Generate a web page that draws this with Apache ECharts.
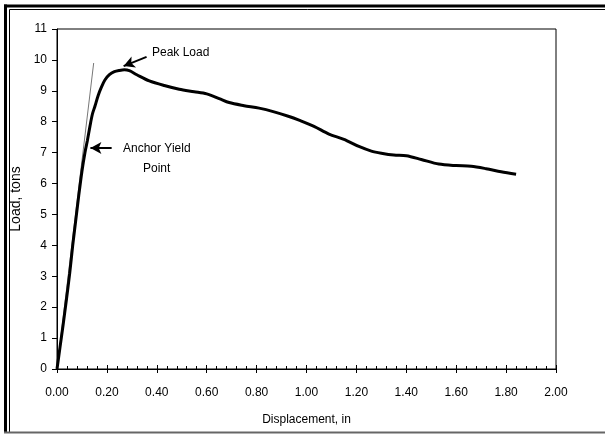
<!DOCTYPE html>
<html>
<head>
<meta charset="utf-8">
<script src="https://cdn.jsdelivr.net/npm/echarts@6/dist/echarts.min.js"></script>
<style>
  html, body { margin: 0; padding: 0; background: #fff; }
  #main { width: 605px; height: 435px; }
</style>
</head>
<body>
<div id="main"></div>
<script>
// values: [displacement (in), load (tons)]
var loadCurve = [
  [0, 0], [0.012, 0.7], [0.024, 1.4], [0.037, 2.2], [0.051, 3.1], [0.063, 4.0],
  [0.075, 4.8], [0.087, 5.6], [0.1, 6.4], [0.112, 7.0], [0.122, 7.4], [0.132, 7.85],
  [0.142, 8.25], [0.152, 8.5], [0.165, 8.85], [0.178, 9.12], [0.192, 9.35],
  [0.21, 9.52], [0.23, 9.62], [0.25, 9.66], [0.27, 9.68], [0.29, 9.65],
  [0.32, 9.52], [0.37, 9.32], [0.43, 9.17], [0.49, 9.05], [0.55, 8.97], [0.6, 8.9],
  [0.65, 8.75], [0.69, 8.62], [0.75, 8.52], [0.81, 8.44], [0.87, 8.32], [0.93, 8.17],
  [0.97, 8.05], [1.03, 7.85], [1.09, 7.6], [1.15, 7.43], [1.21, 7.2], [1.26, 7.05],
  [1.3, 6.98], [1.35, 6.92], [1.4, 6.9], [1.46, 6.78], [1.53, 6.63], [1.6, 6.58],
  [1.66, 6.56], [1.72, 6.48], [1.78, 6.38], [1.84, 6.3]
];
// thin elastic (initial slope) line
var slopeLine = [[0, 0], [0.147, 9.9]];
// annotation arrows [tail, tip]
var peakArrow = [[0.359, 10.1], [0.267, 9.8]];
var yieldArrow = [[0.219, 7.15], [0.134, 7.15]];

var xLabels = ['0.00', '0.20', '0.40', '0.60', '0.80', '1.00', '1.20', '1.40', '1.60', '1.80', '2.00'];

var font = 'Arial, "Liberation Sans", sans-serif';

var myChart = echarts.init(document.getElementById('main'));

var option = {
  animation: false,
  backgroundColor: '#fff',
  grid: {
    left: 57, right: 49, top: 29, bottom: 66,
    show: true, borderColor: '#000', borderWidth: 1
  },
  xAxis: [
    {
      type: 'value', min: 0, max: 2, interval: 0.2,
      position: 'bottom',
      name: 'Displacement, in', nameLocation: 'middle', nameGap: 45,
      nameTextStyle: { fontFamily: font, fontSize: 12, color: '#000' },
      axisLine: { lineStyle: { color: '#000', width: 1 } },
      axisTick: { show: true, inside: true, length: 4, lineStyle: { color: '#000', width: 1 } },
      minorTick: { show: true, splitNumber: 5, length: 3, lineStyle: { color: '#000', width: 1 } },
      axisLabel: {
        fontFamily: font, fontSize: 12, color: '#000', margin: 18,
        formatter: function (v) { return xLabels[Math.round(v / 0.2)]; }
      },
      splitLine: { show: false }
    },
    {
      // downward half of the major ticks
      type: 'value', min: 0, max: 2, interval: 0.2,
      position: 'bottom',
      axisLine: { show: false },
      axisTick: { show: true, length: 4, lineStyle: { color: '#000', width: 1 } },
      axisLabel: { show: false },
      splitLine: { show: false }
    }
  ],
  yAxis: {
    type: 'value', min: 0, max: 11, interval: 1,
    name: 'Load, tons', nameLocation: 'middle', nameGap: 31,
    nameTextStyle: { fontFamily: font, fontSize: 14, color: '#000' },
    axisLine: { show: true, lineStyle: { color: '#000', width: 1 } },
    axisTick: { show: true, length: 5, lineStyle: { color: '#000' } },
    axisLabel: { fontFamily: font, fontSize: 12, color: '#000', margin: 10 },
    splitLine: { show: false }
  },
  series: [
    {
      type: 'line',
      data: slopeLine,
      showSymbol: false,
      lineStyle: { color: '#777', width: 1 },
      silent: true
    },
    {
      type: 'line',
      data: loadCurve,
      showSymbol: false,
      smooth: 0.3,
      lineStyle: { color: '#000', width: 3 },
      markLine: {
        silent: true,
        symbol: ['none', 'arrow'],
        symbolSize: [9, 11],
        label: { show: false },
        lineStyle: { color: '#000', width: 2, type: 'solid' },
        data: [
          [{ coord: peakArrow[0] }, { coord: peakArrow[1] }],
          [{ coord: yieldArrow[0] }, { coord: yieldArrow[1] }]
        ]
      }
    }
  ],
  graphic: [
    { type: 'text', left: 152, top: 47, style: { text: 'Peak Load', font: '12px ' + font, fill: '#000' } },
    { type: 'text', left: 123, top: 143, style: { text: 'Anchor Yield', font: '12px ' + font, fill: '#000' } },
    { type: 'text', left: 143, top: 163, style: { text: 'Point', font: '12px ' + font, fill: '#000' } },
    // page frame
    { type: 'line', shape: { x1: 4, y1: 6, x2: 605, y2: 6 }, style: { stroke: '#000', lineWidth: 3 } },
    { type: 'line', shape: { x1: 5.5, y1: 4.5, x2: 5.5, y2: 433 }, style: { stroke: '#000', lineWidth: 3 } },
    { type: 'line', shape: { x1: 9.5, y1: 9.5, x2: 605, y2: 9.5 }, style: { stroke: '#000', lineWidth: 1 } },
    { type: 'line', shape: { x1: 9.5, y1: 9.5, x2: 9.5, y2: 433 }, style: { stroke: '#000', lineWidth: 1 } },
    { type: 'line', shape: { x1: 4, y1: 432.5, x2: 605, y2: 432.5 }, style: { stroke: '#666', lineWidth: 2 } }
  ]
};

myChart.setOption(option);
</script>
</body>
</html>
